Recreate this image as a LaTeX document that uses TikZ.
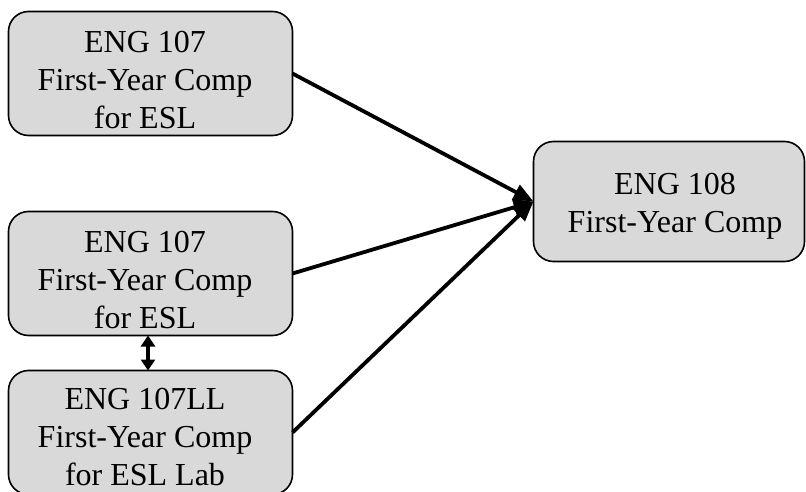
\documentclass[tikz,border=0pt]{standalone}
\usepackage{fontspec}
\setmainfont{Liberation Serif}
\usetikzlibrary{arrows.meta}
\definecolor{boxgray}{HTML}{D9D9D9}
\tikzset{
  coursebox/.style={draw=black, line width=1.6pt, fill=boxgray, rounded corners=20pt,
    inner sep=0pt, outer sep=0pt, minimum width=284pt, minimum height=124pt},
  coursetext/.style={align=center, inner sep=0pt, font=\fontsize{32}{38}\selectfont},
  prereq/.style={line width=3.8pt, -{Triangle[length=20pt,width=16pt]}},
  linkarrow/.style={line width=3.2pt, {Triangle[length=11pt,width=14pt]}-{Triangle[length=11pt,width=14pt]}}
}
\begin{document}
\begin{tikzpicture}[x=1pt,y=-1pt]
\useasboundingbox (0,0) rectangle (806,492);
\clip (0,0) rectangle (806,492);
\node[coursebox] (b1) at (150.5,73.5) {};
\node[coursebox] (b2) at (150.5,273.5) {};
\node[coursebox] (b3) at (150.5,432.5) {};
\node[coursebox, minimum width=271pt, minimum height=120pt] (b4) at (669,201.5) {};
\node[coursetext] (t1) at (145,80) {ENG 107\\First-Year Comp\\for ESL};
\node[coursetext] (t2) at (145,280) {ENG 107\\First-Year Comp\\for ESL};
\node[coursetext] (t3) at (145,437) {ENG 107LL\\First-Year Comp\\for ESL Lab};
\node[coursetext] (t4) at (675,206) {ENG 108\\First-Year Comp};
\draw[prereq] (b1.east) -- (b4.west);
\draw[prereq] (b2.east) -- (b4.west);
\draw[prereq] (b3.east) -- (b4.west);
\coordinate (l1) at (148,336);
\coordinate (l2) at (148,370);
\draw[linkarrow] (b2.south -| l1) -- (b3.north -| l2);
\end{tikzpicture}
\end{document}
